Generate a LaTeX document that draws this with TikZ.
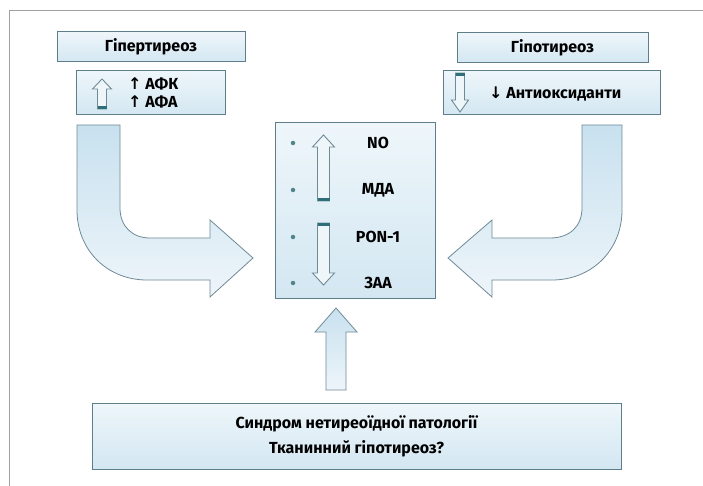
\documentclass[tikz,border=0pt]{standalone}
\usepackage{fontspec}
\setmainfont{Fira Sans}
\newfontfamily\arrowfont{DejaVu Sans}
\usetikzlibrary{positioning}

\definecolor{boxline}{HTML}{5E7E8A}
\definecolor{boxtop}{HTML}{EEF6FA}
\definecolor{boxbot}{HTML}{D3E7F2}
\definecolor{arrline}{HTML}{6F8A96}
\definecolor{arrdark}{HTML}{C8E1EF}
\definecolor{arrlight}{HTML}{EEF5FA}
\definecolor{capcol}{HTML}{2F6F78}
\definecolor{framecol}{HTML}{A0A0A0}

\newcommand{\blockarrow}[6]{% centre x, tip, head base, end, half shaft, half head
  \draw[smallarrow] (#1-#5,#4) -- (#1-#5,#3) -- (#1-#6,#3) -- (#1,#2)
    -- (#1+#6,#3) -- (#1+#5,#3) -- (#1+#5,#4) -- cycle;}

\begin{document}
\begin{tikzpicture}
  [x=1pt,y=-1pt,
   every node/.style={font=\fontsize{16}{20}\selectfont\bfseries},
   box/.style={draw=boxline,line width=1pt,top color=boxtop,bottom color=boxbot,inner sep=0pt},
   bigarrow/.style={draw=arrline,line width=0.8pt,top color=arrdark,bottom color=arrlight},
   smallarrow/.style={draw=arrline,line width=0.9pt,fill=boxtop},
   capbar/.style={fill=capcol},
   dot/.style={circle,fill=capcol!85,inner sep=0pt,minimum size=4.5pt},
   lbl/.style={inner sep=1pt}]
  \useasboundingbox (0,0) rectangle (703,486);
  \draw[framecol,line width=0.8pt] (703,10) -- (9,10) -- (9,486);

  % top boxes
  \node[box,minimum width=188pt,minimum height=30pt] (hyper) at (151,47) {Гіпертиреоз};
  \node[box,minimum width=149pt,minimum height=44pt] (afk) at (150.5,93) {};
  \node[box,minimum width=191pt,minimum height=30pt] (hypo) at (552.5,48) {Гіпотиреоз};
  \node[box,minimum width=217pt,minimum height=44pt] (anti) at (551.5,93) {};

  \node[lbl,anchor=west] (afk1) at (127,84) {{\arrowfont ↑} АФК};
  \node[lbl,anchor=west] (afk2) at (127,102) {{\arrowfont ↑} АФА};
  \node[lbl,anchor=west] (antit) at (488,94) {{\arrowfont ↓} Антиоксиданти};

  \blockarrow{102}{79}{89}{109}{4.5}{9.5}
  \fill[capbar] (97.5,106) rectangle (106.5,109);
  \blockarrow{460}{112}{100}{73}{4.5}{8.5}
  \fill[capbar] (455.5,73) rectangle (464.5,76);

  % central box
  \node[box,minimum width=160pt,minimum height=175pt] (mid) at (355,210.5) {};
  \foreach \y/\lab [count=\i] in {143/NO,190/МДА,237/PON-1,283/ЗАА} {
    \node[dot] (d\i) at (293,\y) {};
    \node[lbl] (l\i) at (378,\y) {\lab};
  }
  \blockarrow{323.5}{135}{147}{201}{6}{11}
  \fill[capbar] (317.5,198) rectangle (329.5,201);
  \blockarrow{323.5}{285}{273}{223}{6}{11}
  \fill[capbar] (317.5,223) rectangle (329.5,226);

  % curved arrows
  \draw[bigarrow] (77,125) -- (77,210) .. controls (77,250) and (107,280) .. (147,280)
    -- (210,280) -- (210,297) -- (253,258) -- (210,220) -- (210,238) -- (150,238)
    .. controls (132,238) and (120,226) .. (120,208) -- (120,125) -- cycle;
  \draw[bigarrow] (622,125) -- (622,210) .. controls (622,250) and (592,280) .. (552,280)
    -- (492,280) -- (492,297) -- (448,258) -- (492,220) -- (492,238) -- (550,238)
    .. controls (570,238) and (582,226) .. (582,208) -- (582,125) -- cycle;

  % bottom box
  \node[box,minimum width=529pt,minimum height=66pt,align=center] (syn) at (356.5,436)
    {Синдром нетиреоїдної патології\\[5pt]Тканинний гіпотиреоз?};
  \draw[bigarrow] (326,390) -- (326,332) -- (315,332) -- (336,308) -- (357,332)
    -- (346,332) -- (346,390) -- cycle;
\end{tikzpicture}
\end{document}
